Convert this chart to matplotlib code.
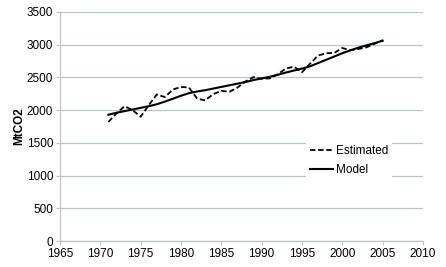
import matplotlib
matplotlib.use('Agg')
import matplotlib.pyplot as plt

plt.rcParams['font.family'] = ['Liberation Sans', 'DejaVu Sans']

years = list(range(1971, 2006))

estimated = [1820, 1950, 2060, 2000, 1900, 2075, 2240, 2200, 2315, 2355,
             2345, 2175, 2150, 2245, 2295, 2280, 2345, 2440, 2505, 2480,
             2485, 2550, 2635, 2665, 2580, 2710, 2835, 2870, 2875, 2950,
             2915, 2935, 2960, 3015, 3070]

model = [1930, 1960, 1985, 2010, 2035, 2060, 2090, 2130, 2175, 2220,
         2260, 2285, 2305, 2330, 2355, 2380, 2405, 2430, 2460, 2485,
         2510, 2540, 2575, 2605, 2635, 2670, 2720, 2770, 2820, 2870,
         2915, 2955, 2990, 3025, 3060]

x_ticks = list(range(1965, 2011, 5))
y_ticks = list(range(0, 3501, 500))

grid_col = '#bcc6c6'

fig = plt.figure(figsize=(4.46, 2.67), dpi=100)
ax = fig.add_axes([60 / 446, 26 / 267, 363 / 446, 229 / 267])

ax.plot(years, estimated, color='black', linestyle=(0, (3, 1.5)), linewidth=1.3, label='Estimated')
ax.plot(years, model, color='black', linestyle='-', linewidth=1.5, label='Model')

ax.set_xlim(1965, 2010)
ax.set_ylim(0, 3500)
ax.set_xticks(x_ticks)
ax.set_yticks(y_ticks)
ax.tick_params(labelsize=8.5, length=3, width=0.8, color=grid_col, pad=2)
ax.yaxis.grid(True, color=grid_col, linewidth=0.9)
ax.set_axisbelow(True)

for side in ['top', 'right']:
    ax.spines[side].set_visible(False)
for side in ['left', 'bottom']:
    ax.spines[side].set_color(grid_col)
    ax.spines[side].set_linewidth(0.9)

ax.set_ylabel('MtCO2', fontsize=8.5, fontweight='bold', labelpad=1)

leg = ax.legend(loc='upper left', bbox_to_anchor=(0.678, 0.435), frameon=True,
                fontsize=8.5, handlelength=2.0, handletextpad=0.25, labelspacing=0.6,
                borderpad=0.3, borderaxespad=0, fancybox=False)
leg.get_frame().set_edgecolor('none')
leg.get_frame().set_facecolor('white')
leg.get_frame().set_alpha(1)

fig.savefig('out.png', dpi=100)
